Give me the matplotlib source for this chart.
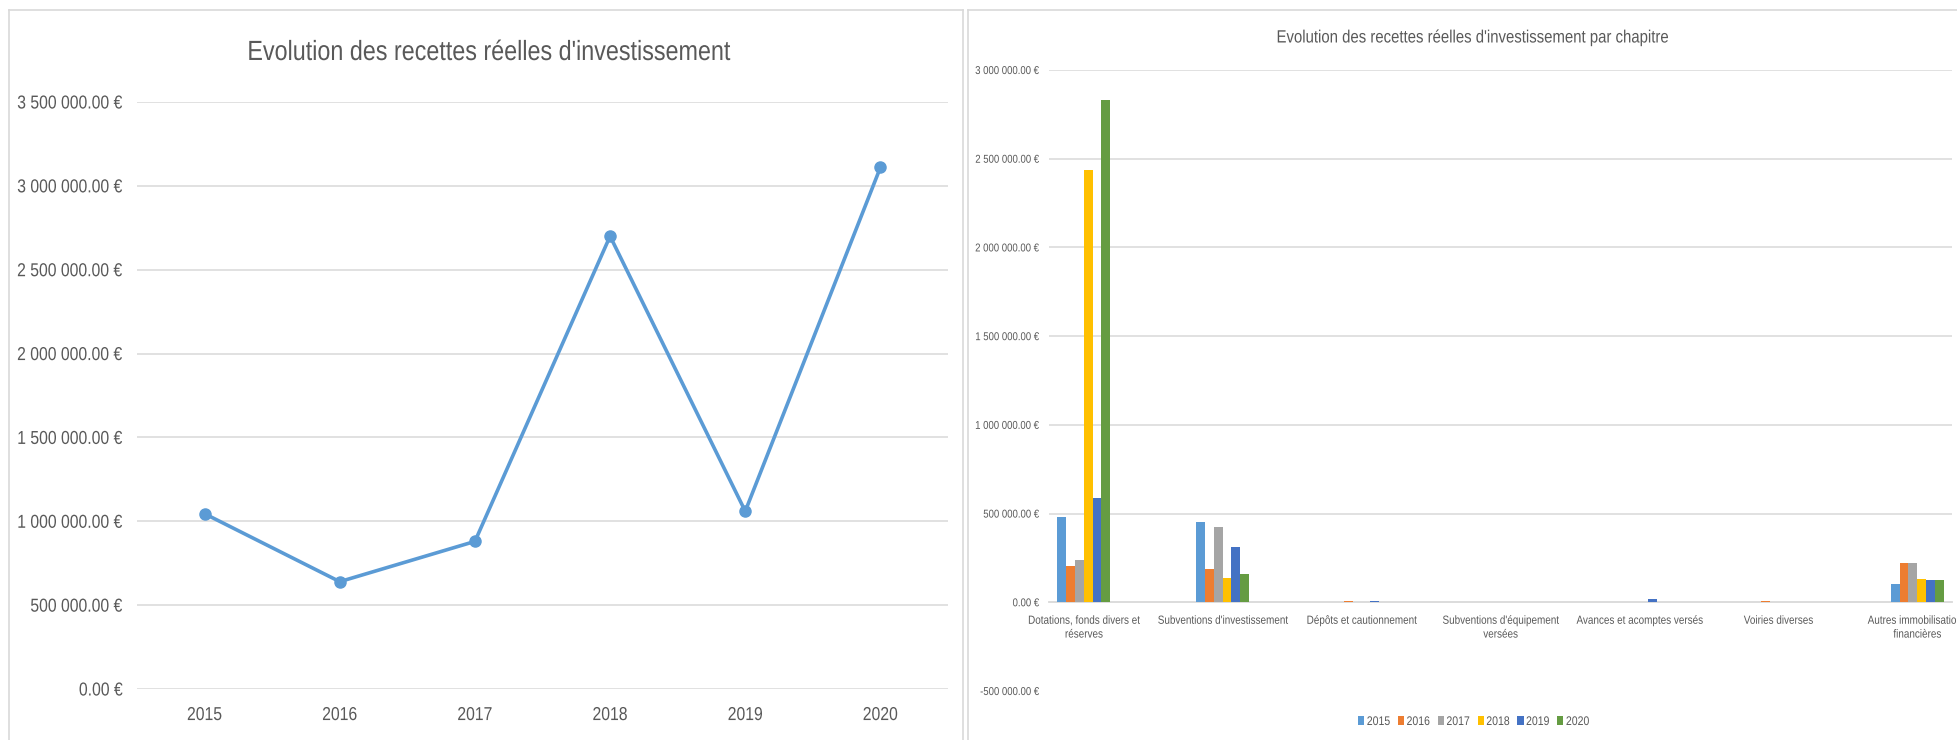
import matplotlib
matplotlib.use("Agg")

import matplotlib.pyplot as plt
from matplotlib.lines import Line2D
from matplotlib.patches import Patch
from matplotlib.path import Path
from matplotlib.patheffects import AbstractPathEffect
from matplotlib.transforms import Affine2D

YEARS = ["2015", "2016", "2017", "2018", "2019", "2020"]

# total recettes réelles d'investissement per year
TOTAL = [1045000, 640000, 880000, 2700000, 1060000, 3110000]

CHAPTERS = [
    "Dotations, fonds divers et\nréserves",
    "Subventions d'investissement",
    "Dépôts et cautionnement",
    "Subventions d'équipement\nversées",
    "Avances et acomptes versés",
    "Voiries diverses",
    "Autres immobilisations\nfinancières",
]

# one list per year, one value per chapter
BY_CHAPTER = {
    "2015": [483000, 455000, 0, 0, 0, 0, 103000],
    "2016": [207000, 190000, 7000, 0, 0, 7000, 222000],
    "2017": [241000, 427000, 0, 0, 0, 0, 222000],
    "2018": [2434000, 139000, 0, 0, 0, 0, 131000],
    "2019": [585000, 314000, 7000, 0, 19000, 0, 126000],
    "2020": [2829000, 162000, 0, 0, 0, 0, 126000],
}

COLORS = ["#5b9bd5", "#ed7d31", "#a5a5a5", "#ffc000", "#4472c4", "#659c42"]

TEXT = "#595959"
GRID = "#d9d9d9"
BORDER = "#d9d9d9"

plt.rcParams["font.family"] = ["Liberation Sans", "DejaVu Sans"]

W, H = 1957, 740


class Squeeze(AbstractPathEffect):
    """Draw text glyphs narrower, keeping the aligned edge where it was."""

    def __init__(self, sx=0.84, anchor="center"):
        super().__init__()
        self.sx = sx
        self.anchor = anchor

    def draw_path(self, renderer, gc, tpath, affine, rgbFace=None):
        verts = tpath.vertices
        if tpath.codes is not None:
            verts = verts[tpath.codes != Path.CLOSEPOLY]
        if len(verts) == 0:
            return
        xs = verts[:, 0]
        if self.anchor == "left":
            px = 0.0
        elif self.anchor == "right":
            px = xs.max()
        else:
            px = (xs.min() + xs.max()) / 2
        squeeze = Affine2D().translate(-px, 0).scale(self.sx, 1).translate(px, 0)
        renderer.draw_path(gc, tpath, squeeze + affine, rgbFace)


def narrow(texts, anchor):
    for t in texts:
        t.set_path_effects([Squeeze(anchor=anchor)])


def fx(px):
    return px / W


def fy(py):
    return 1 - py / H


def euro(v):
    return f"{v:,.2f}".replace(",", " ") + " €"


fig = plt.figure(figsize=(W / 100, H / 100), dpi=100)
fig.patch.set_facecolor("white")

# panel frames
for x0, x1 in [(9, 963), (968, W + 5)]:
    fig.add_artist(Line2D([fx(x0), fx(x1)], [fy(10), fy(10)], color=BORDER, lw=1.2))
    fig.add_artist(Line2D([fx(x0), fx(x0)], [fy(10), fy(H + 5)], color=BORDER, lw=1.2))
    if x1 < W:
        fig.add_artist(Line2D([fx(x1), fx(x1)], [fy(10), fy(H + 5)], color=BORDER, lw=1.2))

# left: line chart of totals
ax1 = fig.add_axes([fx(137), fy(689), fx(948 - 137), (689 - 102) / H])
x = range(len(YEARS))
ax1.plot(x, TOTAL, color=COLORS[0], lw=2.6, marker="o", markersize=8, zorder=3)
ax1.set_xlim(-0.5, 5.5)
ax1.set_ylim(0, 3500000)
yt1 = list(range(0, 3500001, 500000))
ax1.set_yticks(yt1)
ax1.set_yticklabels([euro(v) for v in yt1])
ax1.set_xticks(list(x))
ax1.set_xticklabels(YEARS)
ax1.grid(axis="y", color=GRID, lw=1.1)
ax1.set_axisbelow(True)
for s in ax1.spines.values():
    s.set_visible(False)
ax1.tick_params(length=0, colors=TEXT, labelsize=13.5)
ax1.tick_params(axis="y", pad=10)
ax1.tick_params(axis="x", pad=13)
narrow(ax1.get_yticklabels(), "right")
narrow(ax1.get_xticklabels(), "center")
t1 = fig.text(fx(488), fy(53), "Evolution des recettes réelles d'investissement",
              ha="center", va="center", fontsize=20, color=TEXT)
narrow([t1], "center")

# right: grouped bars per chapter
ax2 = fig.add_axes([fx(1049), fy(691), fx(1952 - 1049), (691 - 70) / H])
bw = 0.0635
for i, year in enumerate(YEARS):
    pos = [c + (i - 2.5) * bw for c in range(len(CHAPTERS))]
    ax2.bar(pos, BY_CHAPTER[year], width=bw, color=COLORS[i], zorder=5)
ax2.set_xlim(-0.25, 6.25)
ax2.set_ylim(-500000, 3000000)
yt2 = list(range(-500000, 3000001, 500000))
ax2.set_yticks(yt2)
ax2.set_yticklabels([euro(v) for v in yt2])
for v in yt2:
    if v > 0:
        ax2.axhline(v, color=GRID, lw=1.1, zorder=1)
ax2.set_xticks(range(len(CHAPTERS)))
ax2.set_xticklabels(CHAPTERS, linespacing=1.6)
for side in ["top", "right", "left"]:
    ax2.spines[side].set_visible(False)
ax2.spines["bottom"].set_position(("data", 0))
ax2.spines["bottom"].set_color(GRID)
ax2.spines["bottom"].set_linewidth(1.3)
ax2.spines["bottom"].set_zorder(4)
ax2.tick_params(length=0, colors=TEXT)
ax2.tick_params(axis="y", pad=7, labelsize=8.2)
ax2.tick_params(axis="x", pad=9, labelsize=8.5)
narrow(ax2.get_yticklabels(), "right")
narrow(ax2.get_xticklabels(), "center")
t2 = fig.text(fx(1472), fy(38), "Evolution des recettes réelles d'investissement par chapitre",
              ha="center", va="center", fontsize=12.8, color=TEXT)
narrow([t2], "center")

handles = [Patch(facecolor=c, edgecolor="none", label=y) for c, y in zip(COLORS, YEARS)]
leg = fig.legend(handles=handles, loc="center", bbox_to_anchor=(fx(1476), fy(722)), ncol=6,
                 frameon=False, fontsize=9, handlelength=0.5, handleheight=0.7,
                 handletextpad=0.2, columnspacing=0.25, labelcolor=TEXT)
narrow(leg.get_texts(), "left")

fig.savefig("out.png", dpi=100, facecolor="white")
